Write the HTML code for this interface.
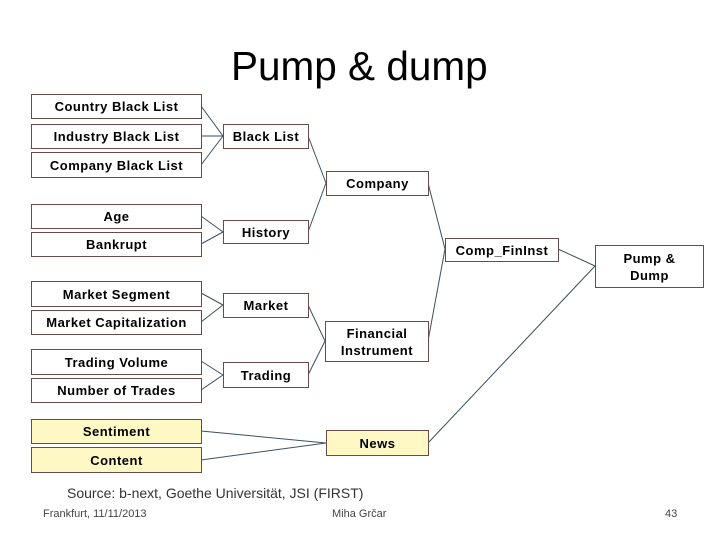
<!DOCTYPE html>
<html><head><style>
body{margin:0;width:720px;height:540px;background:#fff;position:relative;overflow:hidden;font-family:"Liberation Sans",sans-serif}
.b{position:absolute;box-sizing:border-box;border:1px solid #6b4a4a;background:#fff;display:flex;align-items:center;justify-content:center;text-align:center;font-size:13px;font-weight:bold;line-height:17px;color:#000;letter-spacing:0.5px}
.y{background:#fdf8c4}
.t{position:absolute;white-space:nowrap}
</style></head><body>
<div class="t" style="left:231px;top:43px;font-size:40.5px;font-family:'Liberation Sans',sans-serif;">Pump &amp; dump</div>
<svg width="720" height="540" style="position:absolute;left:0;top:0" stroke="#3b5060" stroke-width="1" fill="none">
<path d="M201 106L223 136M201 136L223 136M201 165L223 136"/>
<path d="M201 216L223 232M201 244L223 232"/>
<path d="M201 293L223 305M201 322L223 305"/>
<path d="M201 361L223 375M201 390L223 375"/>
<path d="M201 431L326 443M201 460L326 443"/>
<path d="M308 136L326 183M308 232L326 183"/>
<path d="M308 305L325 341M308 375L325 341"/>
<path d="M428 183L445 249M428 341L445 249"/>
<path d="M558 249L595 266M428 443L595 266"/>
</svg>
<div class="b" style="left:31px;top:94px;width:171px;height:25px">Country Black List</div>
<div class="b" style="left:31px;top:124px;width:171px;height:25px">Industry Black List</div>
<div class="b" style="left:31px;top:152px;width:171px;height:26px">Company Black List</div>
<div class="b" style="left:31px;top:204px;width:171px;height:25px">Age</div>
<div class="b" style="left:31px;top:232px;width:171px;height:25px">Bankrupt</div>
<div class="b" style="left:31px;top:281px;width:171px;height:26px">Market Segment</div>
<div class="b" style="left:31px;top:310px;width:171px;height:25px">Market Capitalization</div>
<div class="b" style="left:31px;top:349px;width:171px;height:26px">Trading Volume</div>
<div class="b" style="left:31px;top:378px;width:171px;height:25px">Number of Trades</div>
<div class="b y" style="left:31px;top:419px;width:171px;height:25px">Sentiment</div>
<div class="b y" style="left:31px;top:447px;width:171px;height:26px">Content</div>
<div class="b" style="left:223px;top:124px;width:86px;height:25px">Black List</div>
<div class="b" style="left:223px;top:220px;width:86px;height:24px">History</div>
<div class="b" style="left:223px;top:293px;width:86px;height:25px">Market</div>
<div class="b" style="left:223px;top:362px;width:86px;height:26px">Trading</div>
<div class="b" style="left:326px;top:171px;width:103px;height:25px">Company</div>
<div class="b" style="left:325px;top:321px;width:104px;height:41px">Financial<br>Instrument</div>
<div class="b y" style="left:326px;top:430px;width:103px;height:26px">News</div>
<div class="b" style="left:445px;top:238px;width:114px;height:24px">Comp_FinInst</div>
<div class="b" style="left:595px;top:245px;width:109px;height:43px">Pump &amp;<br>Dump</div>
<div class="t" style="left:67px;top:485px;font-size:14px;color:#333">Source: b-next, Goethe Universität, JSI (FIRST)</div>
<div class="t" style="left:43px;top:508px;font-size:11px;color:#444">Frankfurt, 11/11/2013</div>
<div class="t" style="left:332px;top:508px;font-size:11px;color:#444">Miha Grčar</div>
<div class="t" style="left:665px;top:508px;font-size:11px;color:#444">43</div>
</body></html>
